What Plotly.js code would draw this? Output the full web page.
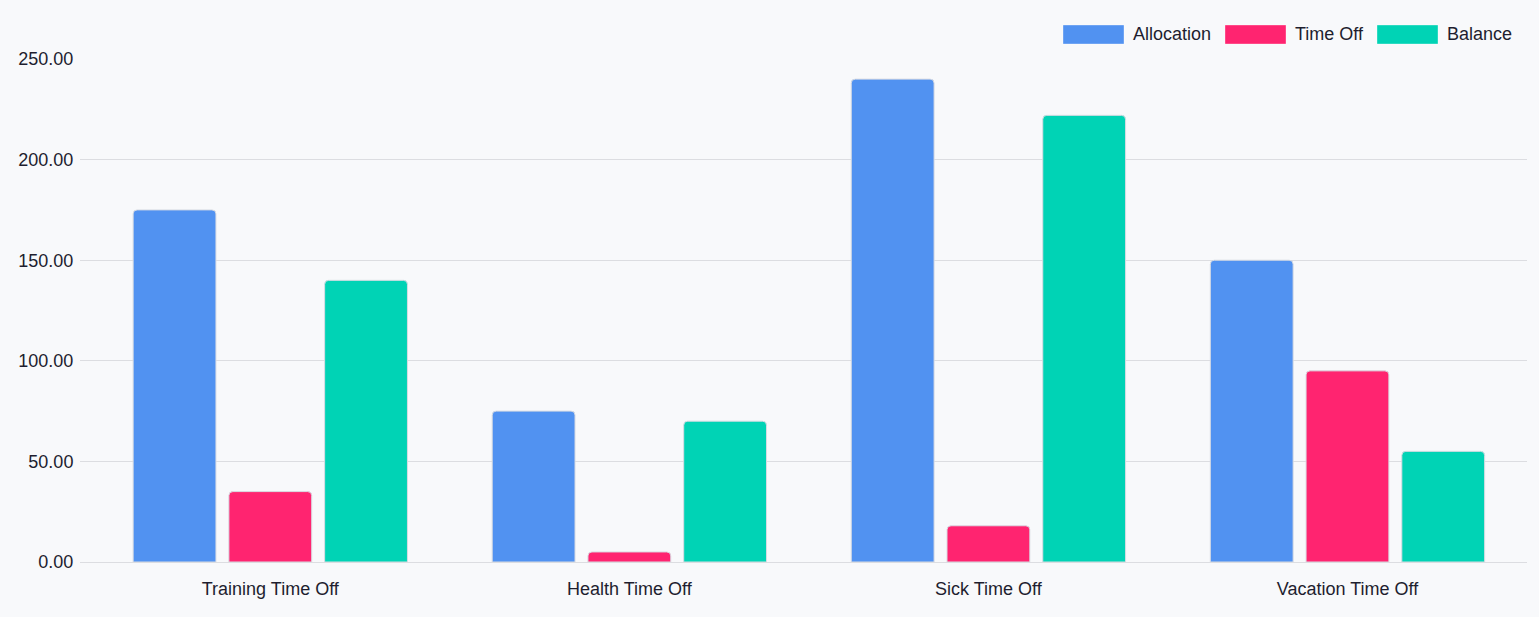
<!DOCTYPE html>
<html>
<head>
<meta charset="utf-8">
<script src="https://cdn.plot.ly/plotly-3.0.1.min.js"></script>
<style>
  html, body { margin: 0; padding: 0; background: #f8f9fb; }
  #chart { width: 1539px; height: 617px; }
</style>
</head>
<body>
<div id="chart"></div>
<script>
const categories = ['Training Time Off', 'Health Time Off', 'Sick Time Off', 'Vacation Time Off'];
const allocation = [175, 75, 240, 150];
const timeOff = [35, 5, 18, 95];
const balance = [140, 70, 222, 55];

const seriesNames = ['Allocation', 'Time Off', 'Balance'];
const seriesColors = ['#5192f1', '#ff2470', '#00d3b5'];

const W = 1539, H = 617;
const margin = { l: 80, r: 12, t: 59, b: 55 };
const plotW = W - margin.l - margin.r;
const plotH = H - margin.t - margin.b;

// pixel -> paper helpers, only used for the hand-drawn legend
const px = (x) => (x - margin.l) / plotW;
const py = (y) => (H - margin.b - y) / plotH;

const makeBar = (name, values, color) => {
    return {
        x: categories,
        y: values,
        type: 'bar',
        name: name,
        marker: {
            color: color,
            cornerradius: 4,
            line: { color: '#d9dce3', width: 1 }
        },
        hoverinfo: 'x+y+name'
    }
}

const traces = [
    makeBar(seriesNames[0], allocation, seriesColors[0]),
    makeBar(seriesNames[1], timeOff, seriesColors[1]),
    makeBar(seriesNames[2], balance, seriesColors[2])
];

// legend: wide swatches like the original, drawn as paper shapes
const legendLeft = [1063, 1225, 1377];
const shapes = [];
const annotations = [];
legendLeft.forEach((left, i) => {
    shapes.push({
        type: 'rect', xref: 'paper', yref: 'paper',
        x0: px(left), x1: px(left + 61), y0: py(44), y1: py(25),
        fillcolor: seriesColors[i],
        line: { color: 'rgba(255,255,255,0.35)', width: 1 }
    });
    annotations.push({
        xref: 'paper', yref: 'paper',
        x: px(left + 68), y: py(34),
        xanchor: 'left', yanchor: 'middle',
        text: seriesNames[i],
        showarrow: false,
        font: { size: 18 }
    });
});

const layout = {
    width: W,
    height: H,
    paper_bgcolor: '#f8f9fb',
    plot_bgcolor: '#f8f9fb',
    font: { family: '"Liberation Sans", Arial, sans-serif', size: 18, color: '#1e1e2f' },
    margin: margin,
    barmode: 'group',
    bargap: 0.2,
    bargroupgap: 0.135,
    showlegend: false,
    shapes: shapes,
    annotations: annotations,
    xaxis: {
        range: [-0.53, 3.5],
        showgrid: false,
        showline: true,
        linecolor: '#dcdde1',
        linewidth: 1,
        ticks: 'outside',
        ticklen: 10,
        tickcolor: 'rgba(0,0,0,0)',
        tickfont: { size: 18 },
        fixedrange: true
    },
    yaxis: {
        range: [0, 250],
        tickvals: [0, 50, 100, 150, 200, 250],
        tickformat: '.2f',
        gridcolor: '#dcdde1',
        gridwidth: 1,
        zeroline: false,
        ticks: 'outside',
        ticklen: 2,
        tickcolor: 'rgba(0,0,0,0)',
        tickfont: { size: 18 },
        fixedrange: true
    }
};

Plotly.newPlot('chart', traces, layout, { displayModeBar: false });
</script>
</body>
</html>
